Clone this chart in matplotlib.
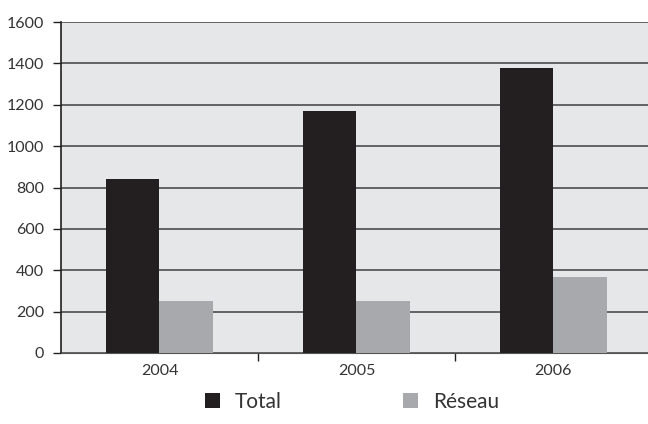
import numpy as np
import matplotlib.pyplot as plt

years = ["2004", "2005", "2006"]
total = [840, 1170, 1380]
reseau = [250, 250, 365]

plt.rcParams['font.family'] = ['Lato', 'DejaVu Sans']

fig = plt.figure(figsize=(6.48, 4.24), dpi=100)
ax = fig.add_axes([61/648, 1 - 353/424, 1 - 61/648, (353 - 22)/424])
ax.set_facecolor('#e6e7e8')

x = np.arange(len(years))
w = 0.27
ax.bar(x - w/2, total, w, color='#231f20', label='Total', zorder=3)
ax.bar(x + w/2, reseau, w, color='#a7a9ac', label='Réseau', zorder=3)

ax.set_xlim(-0.5, 2.48)
ax.set_ylim(0, 1600)
ax.set_yticks(range(0, 1601, 200))
ax.yaxis.grid(True, color='#4d4d4d', linewidth=1.2, zorder=1)
ax.set_axisbelow(True)

ax.set_xticks([0.5, 1.5])
ax.set_xticklabels([])
ax.set_xticks(x, minor=True)
ax.set_xticklabels(years, minor=True, fontsize=11.5, color='#333333')
ax.tick_params(axis='x', which='minor', length=0, pad=8)
ax.tick_params(axis='x', which='major', length=6, width=1, color='#231f20', direction='out')
ax.tick_params(axis='y', length=6, width=1, color='#231f20', labelsize=11.5,
               labelcolor='#333333', pad=6)

for s in ['top', 'right']:
    ax.spines[s].set_visible(False)
ax.spines['left'].set_color('#231f20')
ax.spines['bottom'].set_color('#555555')
ax.spines['left'].set_linewidth(1.2)

leg = fig.legend(loc='lower center', bbox_to_anchor=(0.543, -0.015), ncol=2, frameon=False,
                 handlelength=0.75, handleheight=0.75, columnspacing=5.8,
                 handletextpad=0.7, prop={'family': ['Lato', 'DejaVu Sans'], 'size': 15})
for t in leg.get_texts():
    t.set_color('#333333')

plt.savefig('out.png', dpi=100)
